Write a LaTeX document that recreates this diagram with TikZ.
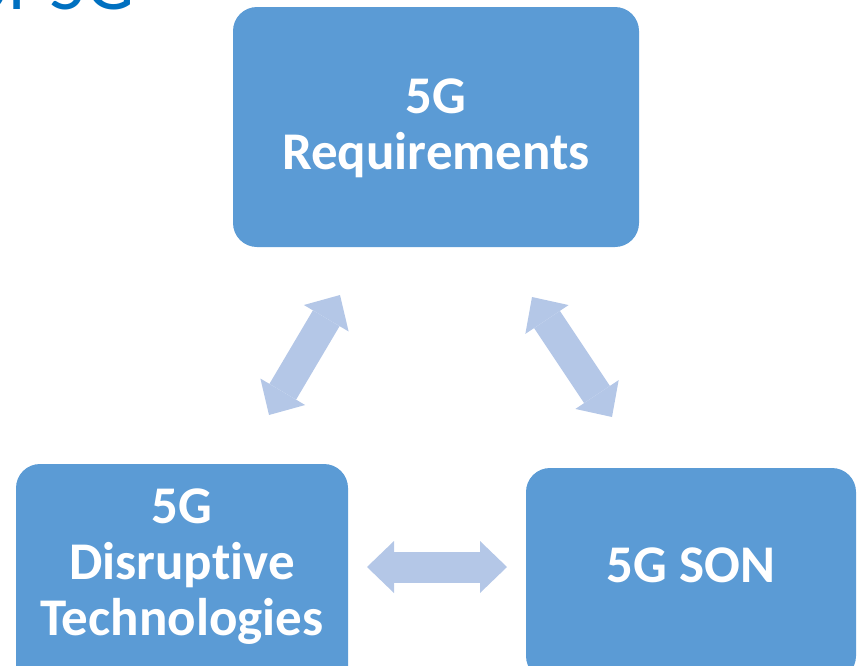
\documentclass[tikz,border=0pt]{standalone}
\usepackage{fontspec}
\setmainfont{Carlito}[Ligatures=NoCommon]
\usetikzlibrary{arrows.meta}
\definecolor{boxblue}{HTML}{5B9BD5}
\definecolor{arrowblue}{HTML}{B4C7E7}
\definecolor{titleblue}{HTML}{0070C0}
\begin{document}
\begin{tikzpicture}[x=1pt,y=-1pt,
  box/.style={draw=none, fill=boxblue, rounded corners=24pt, inner sep=0pt},
  lbl/.style={text=white, font=\fontsize{53}{56}\selectfont\bfseries, align=center, inner sep=0pt},
  link/.style={draw=arrowblue, line width=31pt, {Triangle[length=27pt,width=52pt,line width=0pt]}-{Triangle[length=27pt,width=52pt,line width=0pt]}}
]
\path[use as bounding box] (0,0) rectangle (860,665);
\clip (0,0) rectangle (860,665);

% slide title, mostly above the visible area
\node[anchor=base east, inner sep=0pt, text=titleblue, font=\fontsize{76}{80}\selectfont] (title) at (135,9) {of 5G};

% the three blocks
\node[box, minimum width=406pt, minimum height=240pt] (req) at (436,127) {};
\node[box, minimum width=332pt, minimum height=226pt] (tech) at (182,577) {};
\node[box, minimum width=330pt, minimum height=212pt] (son) at (691,574) {};

% labels, placed by the baseline of their last line
\node[lbl, anchor=base] (reqtxt) at (436,169) {5G\\Requirements};
\node[lbl, anchor=base] (techtxt) at (182,635) {5G\\Disruptive\\Technologies};
\node[lbl, anchor=base] (sontxt) at (691,582) {5G SON};

% ends of the two-headed arrows
\coordinate (rl) at (340,295);
\coordinate (tr) at (269,415);
\coordinate (rr) at (532,297);
\coordinate (sr) at (612,417);
\coordinate (ts) at (367,567);
\coordinate (st) at (507,567);

\draw[link] (tr) -- (rl);
\draw[link] (rr) -- (sr);
\draw[link] (ts) -- (st);
\end{tikzpicture}
\end{document}
